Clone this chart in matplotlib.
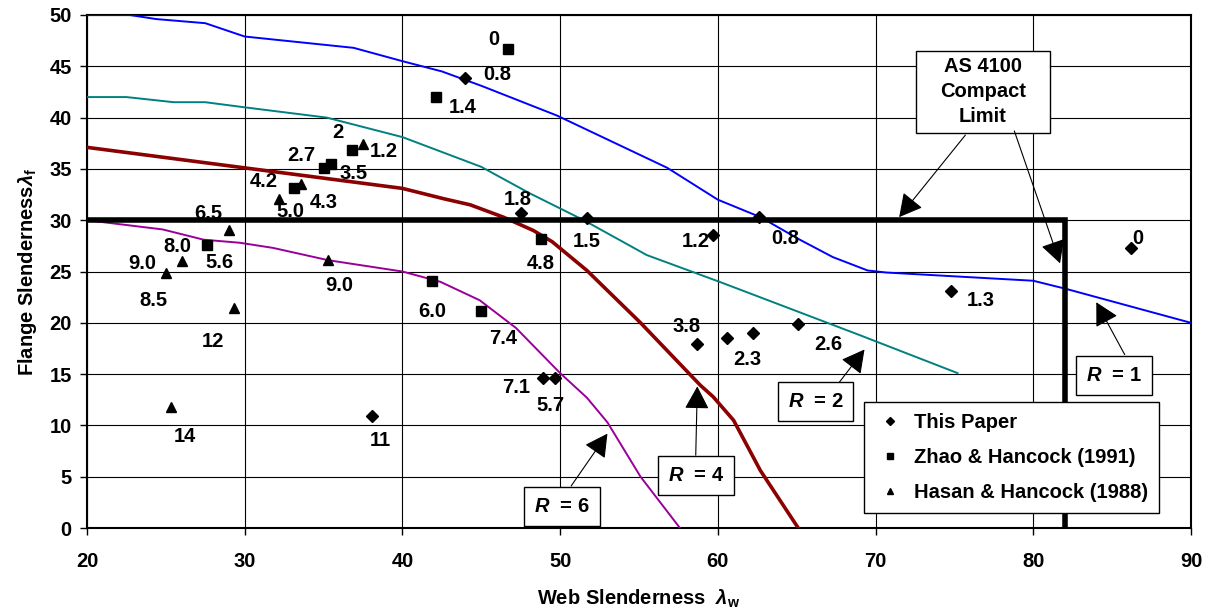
import matplotlib

matplotlib.use("Agg")
import matplotlib.pyplot as plt  # noqa: E402
from matplotlib.patches import Rectangle  # noqa: E402

plt.rcParams["font.family"] = ["Liberation Sans", "DejaVu Sans"]
plt.rcParams["font.weight"] = "bold"
plt.rcParams["axes.labelweight"] = "bold"
plt.rcParams["font.size"] = 14.5
plt.rcParams["mathtext.fontset"] = "custom"
plt.rcParams["mathtext.rm"] = "Liberation Sans:bold"
plt.rcParams["mathtext.it"] = "Liberation Sans:bold:italic"
plt.rcParams["mathtext.bf"] = "Liberation Sans:bold"

# R curves (web slenderness, flange slenderness)
r1_x = [20, 22.7, 24.4, 27.5, 30, 36.9, 40, 42.5, 45, 49.8, 56.8, 60, 62.7, 65.2, 67.3, 69.5, 70.7, 80, 82.1, 90]
r1_y = [50, 50, 49.6, 49.2, 47.9, 46.8, 45.5, 44.5, 43.1, 40.2, 35.1, 32, 30.3, 28.1, 26.4, 25.1, 24.9, 24.1, 23.3, 20]
r2_x = [20, 22.5, 25.5, 27.5, 30, 35.2, 40, 45, 48.1, 51.5, 55.5, 60.1, 69, 75.2]
r2_y = [42, 42, 41.5, 41.5, 41, 40, 38.1, 35.2, 32.6, 30, 26.6, 24, 18.8, 15.1]
r4_x = [20, 30, 37.5, 40, 42.6, 44.3, 46.4, 48.3, 49.5, 51.7, 55.1, 58.9, 59.7, 61, 62.7, 65.1]
r4_y = [37.1, 35.1, 33.6, 33.1, 32.1, 31.5, 30.3, 29, 27.9, 25.1, 20, 13.9, 12.8, 10.5, 5.6, 0]
r6_x = [20, 24.8, 27.4, 29.7, 31.8, 35.3, 40, 42.4, 44.9, 47.2, 50, 51.7, 53, 55.1, 57.6]
r6_y = [30, 29.1, 28.1, 27.8, 27.3, 26.1, 25, 24, 22.2, 19.5, 15.1, 12.7, 10.3, 5, 0]

# AS 4100 compact limit
limit_x = [20, 82, 82]
limit_y = [30, 30, 0]

# test results
paper_x = [44.0, 47.5, 51.7, 62.6, 59.7, 58.7, 60.6, 62.2, 65.1, 48.9, 49.7, 38.1, 74.8, 86.2]
paper_y = [43.9, 30.7, 30.2, 30.3, 28.6, 17.9, 18.5, 19.0, 19.9, 14.6, 14.6, 10.9, 23.1, 27.3]
zhao_x = [46.7, 42.1, 36.8, 35.5, 35.0, 33.1, 27.6, 41.9, 45.0, 48.8]
zhao_y = [46.7, 42.0, 36.8, 35.5, 35.1, 33.1, 27.6, 24.1, 21.2, 28.2]
hasan_x = [37.5, 33.6, 32.2, 29.0, 26.0, 25.0, 29.3, 35.3, 25.3]
hasan_y = [37.4, 33.5, 32.1, 29.0, 26.0, 24.9, 21.4, 26.1, 11.8]

# point labels
label_text = ["0", "0.8", "1.4", "2", "1.2", "2.7", "3.5", "4.2", "4.3", "5.0", "6.5", "8.0",
              "5.6", "9.0", "8.5", "12", "9.0", "14", "11", "6.0", "7.4", "1.8", "1.5", "4.8",
              "1.2", "0.8", "3.8", "2.3", "2.6", "7.1", "5.7", "1.3", "0"]
label_x = [45.8, 46.0, 43.8, 35.9, 38.8, 33.6, 36.9, 31.2, 35.0, 32.9, 27.7, 25.7,
           28.4, 23.5, 24.2, 28.0, 36.0, 26.2, 38.6, 41.9, 46.4, 47.3, 51.7, 48.8,
           58.6, 64.3, 58.0, 61.9, 67.0, 47.2, 49.4, 76.7, 86.6]
label_y = [47.6, 44.2, 41.0, 38.5, 36.7, 36.3, 34.6, 33.8, 31.7, 30.8, 30.7, 27.4,
           25.9, 25.8, 22.2, 18.2, 23.6, 8.9, 8.5, 21.1, 18.5, 32.0, 27.9, 25.8,
           27.9, 28.2, 19.6, 16.4, 17.9, 13.7, 11.9, 22.2, 28.2]

fig = plt.figure(figsize=(12.15, 6.14), dpi=100)
ax = fig.add_axes([0.0716, 0.140, 0.9086, 0.8356])

ax.plot(r1_x, r1_y, color="#0000FF", lw=1.4, zorder=3)
ax.plot(r2_x, r2_y, color="#008080", lw=1.4, zorder=3)
ax.plot(r4_x, r4_y, color="#8B0000", lw=2.6, zorder=3)
ax.plot(r6_x, r6_y, color="#990099", lw=1.4, zorder=3)
ax.plot(limit_x, limit_y, color="black", lw=4, zorder=4, solid_joinstyle="miter")

ax.plot(paper_x, paper_y, "D", color="black", ms=6, ls="none", zorder=5, label="This Paper")
ax.plot(zhao_x, zhao_y, "s", color="black", ms=7, ls="none", zorder=5, label="Zhao & Hancock (1991)")
ax.plot(hasan_x, hasan_y, "^", color="black", ms=7, ls="none", zorder=5, label="Hasan & Hancock (1988)")

for t, x, y in zip(label_text, label_x, label_y):
    ax.text(x, y, t, ha="center", va="center", zorder=6)

box = dict(boxstyle="square,pad=0.5", fc="white", ec="black", lw=1)
arrow = dict(arrowstyle="-|>,head_length=0.65,head_width=0.35", mutation_scale=22,
             color="black", lw=0.8, shrinkA=0, shrinkB=0)

# AS 4100 label box with two arrows
ax.add_patch(Rectangle((72.57, 38.5), 8.5, 8.0, fc="white", ec="black", lw=1, zorder=7))
ax.text(76.8, 42.5, "AS 4100\nCompact\nLimit", ha="center", va="center",
        linespacing=1.4, zorder=8)
ax.annotate("", xy=(71.5, 30.3), xytext=(75.7, 38.3), arrowprops=arrow, zorder=7)
ax.annotate("", xy=(81.7, 25.8), xytext=(78.8, 38.7), arrowprops=arrow, zorder=7)

# R value boxes
ax.text(85.1, 14.9, "$R$  = 1", ha="center", va="center", bbox=box, zorder=7)
ax.annotate("", xy=(84.0, 22.0), xytext=(85.8, 16.9), arrowprops=arrow, zorder=7)
ax.text(66.2, 12.3, "$R$  = 2", ha="center", va="center", bbox=box, zorder=7)
ax.annotate("", xy=(69.3, 17.4), xytext=(67.7, 14.2), arrowprops=arrow, zorder=7)
ax.text(58.6, 5.1, "$R$  = 4", ha="center", va="center", bbox=box, zorder=7)
ax.annotate("", xy=(58.7, 13.8), xytext=(58.6, 7.1), arrowprops=arrow, zorder=7)
ax.text(50.1, 2.1, "$R$  = 6", ha="center", va="center", bbox=box, zorder=7)
ax.annotate("", xy=(53.0, 9.2), xytext=(50.7, 4.1), arrowprops=arrow, zorder=7)

ax.set_xlim(20, 90)
ax.set_ylim(0, 50)
ax.set_xticks(range(20, 91, 10))
ax.set_yticks(range(0, 51, 5))
ax.grid(True, color="black", lw=0.8)
ax.set_axisbelow(True)
for s in ax.spines.values():
    s.set_linewidth(1.5)
ax.tick_params(axis="both", direction="out", length=5, width=1)
ax.tick_params(axis="x", pad=12)
ax.tick_params(axis="y", pad=6)

ax.set_xlabel(r"Web Slenderness  $\lambda_\mathrm{w}$", labelpad=12)
ax.set_ylabel(r"Flange Slenderness$\lambda_\mathrm{f}$", labelpad=7)

leg = ax.legend(loc="lower left", bbox_to_anchor=(0.704, 0.029),
                frameon=True, fancybox=False, framealpha=1, edgecolor="black",
                borderaxespad=0, borderpad=0.55, handlelength=1.5, handletextpad=0.4,
                labelspacing=0.8, markerscale=0.7)
leg.get_frame().set_linewidth(1)
leg.set_zorder(8)

fig.savefig("out.png", dpi=100)
